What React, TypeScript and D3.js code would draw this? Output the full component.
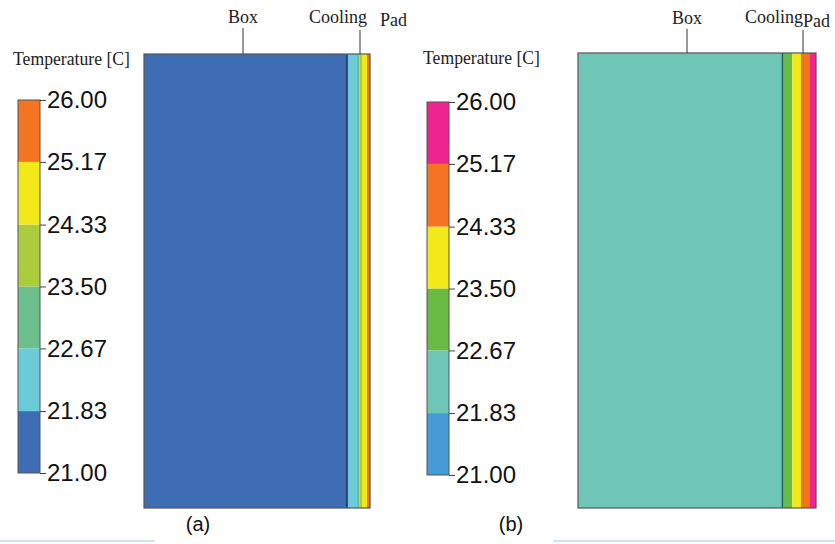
import React, { useEffect, useRef } from 'react';
import * as d3 from 'd3';

// temperature levels of the contour legend
const levels = [21.0, 21.83, 22.67, 23.5, 24.33, 25.17, 26.0];
const tickLabels = ['21.00', '21.83', '22.67', '23.50', '24.33', '25.17', '26.00'];

const coloursA = ['#3f6db4', '#6ccbd9', '#6dbf8d', '#abcc3c', '#f2e81a', '#f47422'];
const coloursB = ['#449bd6', '#6fc6b6', '#6aba46', '#f2e81a', '#f47422', '#ec2590'];

// box (uniform) and cooling pad bands, left to right
const boxTempA = 21.4;
const boxTempB = 22.2;
const boxWidthA = 203;
const boxWidthB = 204;
const padTempsA = [22.2, 23.1, 23.9, 24.8, 25.6];
const padWidthsA = [10, 2.5, 2.5, 5, 3];
const padTempsB = [22.2, 23.1, 23.9, 24.8, 25.6];
const padWidthsB = [1.5, 8.2, 8.7, 8.3, 6.7];

const captions = ['(a)', '(b)'];
const partLabels = ['Box', 'Cooling', 'Pad'];
const legendTitle = 'Temperature [C]';

const panels = [
  {
    colours: coloursA, boxTemp: boxTempA, boxWidth: boxWidthA, padTemps: padTempsA, padWidths: padWidthsA,
    divider: '#1f2b5c', caption: captions[0],
    legend: { x: 18, w: 22, top: 100, bottom: 473, titleX: 13, titleY: 65 },
    model: { x0: 144, x1: 370, y0: 54, y1: 508 },
    boxLabel: { x: 243, y: 23 }, coolLabel: { x: 309, y: 23 }, padLabel: { x: 380, y: 26 },
    padLeader: 360, captionX: 198,
  },
  {
    colours: coloursB, boxTemp: boxTempB, boxWidth: boxWidthB, padTemps: padTempsB, padWidths: padWidthsB,
    divider: '#1d5e55', caption: captions[1],
    legend: { x: 427, w: 22, top: 102, bottom: 475, titleX: 423, titleY: 64 },
    model: { x0: 578, x1: 816, y0: 53, y1: 508 },
    boxLabel: { x: 687, y: 24 }, coolLabel: { x: 745, y: 23 }, padLabel: { x: 803, y: 27 },
    padLeader: 803, captionX: 511,
  },
];

const App = () => {
  const ref = useRef<SVGSVGElement>(null);

  useEffect(() => {
    const svg = d3.select(ref.current);
    svg.selectAll('*').remove();
    const serif = '"Liberation Serif", "DejaVu Serif", serif';
    const sans = '"Liberation Sans", Arial, sans-serif';

    panels.forEach(p => {
      const g = svg.append('g');
      const colour = d3.scaleThreshold<number, string>()
        .domain(levels.slice(1, -1))
        .range(p.colours);

      // legend
      const y = d3.scaleLinear().domain([levels[0], levels[levels.length - 1]])
        .range([p.legend.bottom, p.legend.top]);
      g.append('text')
        .attr('x', p.legend.titleX).attr('y', p.legend.titleY)
        .attr('font-family', serif).attr('font-size', 18).attr('fill', '#222')
        .attr('textLength', 117).attr('lengthAdjust', 'spacingAndGlyphs')
        .text(legendTitle);
      g.append('g').selectAll('rect')
        .data(d3.pairs(levels))
        .join('rect')
        .attr('x', p.legend.x).attr('width', p.legend.w)
        .attr('y', d => y(d[1])).attr('height', d => y(d[0]) - y(d[1]))
        .attr('fill', d => colour((d[0] + d[1]) / 2));
      g.append('rect')
        .attr('x', p.legend.x).attr('y', p.legend.top)
        .attr('width', p.legend.w).attr('height', p.legend.bottom - p.legend.top)
        .attr('fill', 'none').attr('stroke', '#555').attr('stroke-width', 1);
      const axis = g.append('g')
        .attr('transform', `translate(${p.legend.x + p.legend.w},0)`)
        .call(d3.axisRight(y).tickValues(levels).tickSize(6).tickPadding(1)
          .tickFormat((d, i) => tickLabels[i]));
      axis.select('.domain').remove();
      axis.selectAll('line').attr('stroke', '#444');
      axis.selectAll('text')
        .attr('font-family', sans)
        .attr('font-size', 24).attr('fill', '#111');

      // model: box + cooling pad
      const total = p.boxWidth + d3.sum(p.padWidths);
      const x = d3.scaleLinear().domain([0, total]).range([p.model.x0, p.model.x1]);
      const starts = d3.cumsum([p.boxWidth, ...p.padWidths]);
      g.append('rect')
        .attr('x', x(0)).attr('y', p.model.y0)
        .attr('width', x(p.boxWidth) - x(0)).attr('height', p.model.y1 - p.model.y0)
        .attr('fill', colour(p.boxTemp));
      g.append('g').selectAll('rect')
        .data(p.padTemps)
        .join('rect')
        .attr('x', (d, i) => x(starts[i]))
        .attr('width', (d, i) => x(starts[i] + p.padWidths[i]) - x(starts[i]))
        .attr('y', p.model.y0).attr('height', p.model.y1 - p.model.y0)
        .attr('fill', d => colour(d));
      g.append('line')
        .attr('x1', x(p.boxWidth)).attr('x2', x(p.boxWidth))
        .attr('y1', p.model.y0).attr('y2', p.model.y1)
        .attr('stroke', p.divider).attr('stroke-width', 1.5);
      g.append('rect')
        .attr('x', x(0)).attr('y', p.model.y0)
        .attr('width', x(total) - x(0)).attr('height', p.model.y1 - p.model.y0)
        .attr('fill', 'none').attr('stroke', '#555').attr('stroke-width', 1.2);

      // part labels with leader lines
      g.append('text').attr('x', p.boxLabel.x).attr('y', p.boxLabel.y)
        .attr('text-anchor', 'middle').attr('font-family', serif).attr('font-size', 18).attr('fill', '#222')
        .text(partLabels[0]);
      g.append('line').attr('x1', p.boxLabel.x).attr('x2', p.boxLabel.x)
        .attr('y1', p.boxLabel.y + 5).attr('y2', p.model.y0).attr('stroke', '#333');
      g.append('text').attr('x', p.coolLabel.x).attr('y', p.coolLabel.y)
        .attr('font-family', serif).attr('font-size', 18).attr('fill', '#222')
        .text(partLabels[1]);
      g.append('text').attr('x', p.padLabel.x).attr('y', p.padLabel.y)
        .attr('font-family', serif).attr('font-size', 18).attr('fill', '#222')
        .text(partLabels[2]);
      g.append('line').attr('x1', p.padLeader).attr('x2', p.padLeader)
        .attr('y1', p.coolLabel.y + 7).attr('y2', p.model.y0).attr('stroke', '#333');

      g.append('text').attr('x', p.captionX).attr('y', 531)
        .attr('text-anchor', 'middle').attr('font-family', sans)
        .attr('font-size', 20).attr('fill', '#111')
        .text(p.caption);
    });

    // faint rules at the bottom edge
    svg.append('line').attr('x1', 0).attr('x2', 155).attr('y1', 541).attr('y2', 541)
      .attr('stroke', '#cfe1f6').attr('stroke-width', 2);
    svg.append('line').attr('x1', 553).attr('x2', 835).attr('y1', 541).attr('y2', 541)
      .attr('stroke', '#cfe1f6').attr('stroke-width', 2);
  }, []);

  return (
    <svg ref={ref} width={835} height={544}
      style={{ position: 'absolute', left: 0, top: 0, background: '#fff' }} />
  );
};

export default App;
